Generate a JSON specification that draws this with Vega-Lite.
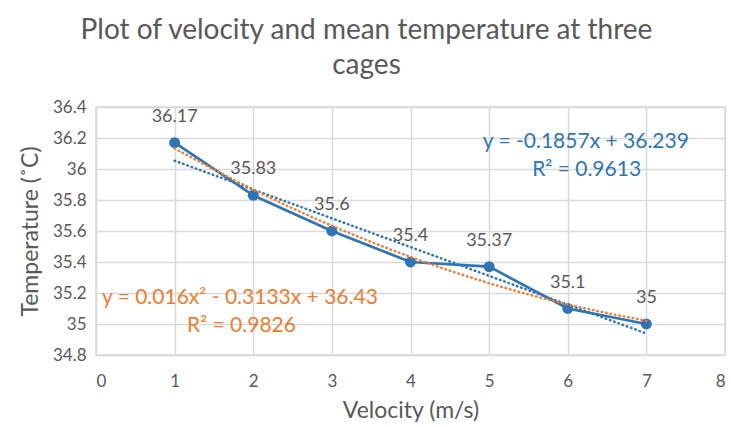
{
  "$schema": "https://vega.github.io/schema/vega-lite/v6.json",
  "width": 629,
  "height": 248,
  "autosize": {"type": "none"},
  "padding": {"left": 96, "top": 107, "right": 6, "bottom": 72},
  "background": "white",
  "config": {
    "font": "Lato",
    "view": {"stroke": "#D9D9D9", "strokeWidth": 1.5},
    "axis": {"labelColor": "#595959", "titleColor": "#595959", "labelFontSize": 17, "titleFontSize": 23, "titleFontWeight": "normal", "gridColor": "#D9D9D9", "gridWidth": 1.5, "domain": false, "ticks": false, "labelOverlap": false}
  },
  "title": {
    "text": ["Plot of velocity and mean temperature at three", "cages"],
    "fontSize": 28, "fontWeight": "normal", "color": "#595959", "lineHeight": 35,
    "anchor": "middle", "dx": -44, "offset": 18, "font": "Lato"
  },
  "datasets": {
    "obs": [
      {"velocity": 1, "temp": 36.17},
      {"velocity": 2, "temp": 35.83},
      {"velocity": 3, "temp": 35.6},
      {"velocity": 4, "temp": 35.4},
      {"velocity": 5, "temp": 35.37},
      {"velocity": 6, "temp": 35.1},
      {"velocity": 7, "temp": 35}
    ],
    "linfit": [
      {"velocity": 1, "temp": 36.0533},
      {"velocity": 7, "temp": 34.939}
    ],
    "polyfit": [
      {"velocity": 1, "temp": 36.1327},
      {"velocity": 2, "temp": 35.8674},
      {"velocity": 3, "temp": 35.6341},
      {"velocity": 4, "temp": 35.4328},
      {"velocity": 5, "temp": 35.2635},
      {"velocity": 6, "temp": 35.1262},
      {"velocity": 7, "temp": 35.0209}
    ],
    "eqs": [
      {"x": 6.23, "y": 36.176, "label": "y = -0.1857x + 36.239", "series": "linear"},
      {"x": 6.24, "y": 35.995, "label": "R² = 0.9613", "series": "linear"},
      {"x": 1.83, "y": 35.168, "label": "y = 0.016x² - 0.3133x + 36.43", "series": "poly"},
      {"x": 1.85, "y": 34.985, "label": "R² = 0.9826", "series": "poly"}
    ]
  },
  "layer": [
    {
      "data": {"name": "obs"},
      "mark": {"type": "line", "color": "#2E75B6", "strokeWidth": 2.75},
      "encoding": {
        "x": {"field": "velocity", "type": "quantitative", "scale": {"domain": [0, 8], "nice": false}, "axis": {"values": [0,1,2,3,4,5,6,7,8], "format": "d", "title": "Velocity (m/s)", "labelPadding": 18, "titlePadding": 10}},
        "y": {"field": "temp", "type": "quantitative", "scale": {"domain": [34.8, 36.4], "nice": false, "zero": false}, "axis": {"tickCount": 8, "labelOverlap": false, "format": "~g", "title": "Temperature (˚C)", "labelPadding": 10, "titlePadding": 10}}
      }
    },
    {
      "data": {"name": "obs"},
      "mark": {"type": "point", "filled": true, "opacity": 1, "color": "#2E75B6", "size": 120},
      "encoding": {
        "x": {"field": "velocity", "type": "quantitative"},
        "y": {"field": "temp", "type": "quantitative"}
      }
    },
    {
      "data": {"name": "linfit"},
      "mark": {"type": "line", "color": "#2E75B6", "strokeWidth": 2.5, "strokeDash": [0.5, 4], "strokeCap": "round"},
      "encoding": {
        "x": {"field": "velocity", "type": "quantitative"},
        "y": {"field": "temp", "type": "quantitative"}
      }
    },
    {
      "data": {"name": "polyfit"},
      "mark": {"type": "line", "color": "#ED7D31", "strokeWidth": 2.5, "strokeDash": [0.5, 4], "strokeCap": "round", "interpolate": "monotone"},
      "encoding": {
        "x": {"field": "velocity", "type": "quantitative"},
        "y": {"field": "temp", "type": "quantitative"}
      }
    },
    {
      "data": {"name": "obs"},
      "mark": {"type": "text", "fontSize": 18, "color": "#595959", "dy": -26},
      "encoding": {
        "x": {"field": "velocity", "type": "quantitative"},
        "y": {"field": "temp", "type": "quantitative"},
        "text": {"field": "temp", "type": "quantitative", "format": "~g"}
      }
    },
    {
      "data": {"name": "eqs"},
      "mark": {"type": "text", "fontSize": 21},
      "encoding": {
        "x": {"field": "x", "type": "quantitative"},
        "y": {"field": "y", "type": "quantitative"},
        "text": {"field": "label"},
        "color": {"field": "series", "type": "nominal", "scale": {"domain": ["linear", "poly"], "range": ["#2E75B6", "#ED7D31"]}, "legend": null}
      }
    }
  ]
}
